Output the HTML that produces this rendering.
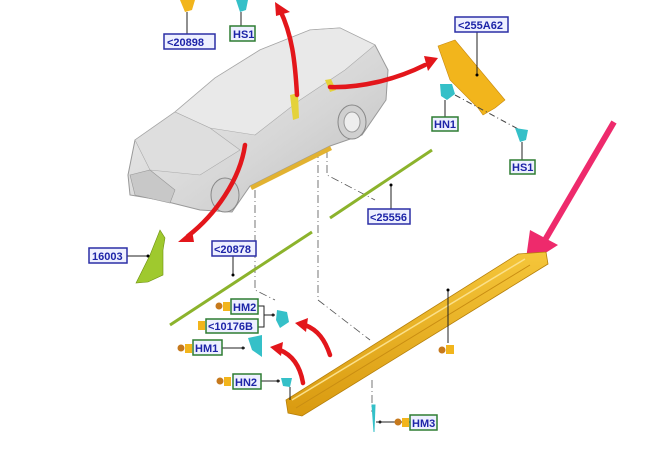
<!DOCTYPE html>
<html><head><meta charset="utf-8"><style>
html,body{margin:0;padding:0;background:#fff;}
svg{display:block;}
text{font-family:"Liberation Sans",sans-serif;font-weight:bold;font-size:11px;}
</style></head><body>
<svg width="662" height="452" viewBox="0 0 662 452" xmlns="http://www.w3.org/2000/svg">
<defs>
<linearGradient id="car" x1="0" y1="0" x2="1" y2="1">
<stop offset="0" stop-color="#f2f2f2"/><stop offset="0.6" stop-color="#d6d6d6"/><stop offset="1" stop-color="#bdbdbd"/>
</linearGradient>
<linearGradient id="sill" x1="0" y1="0" x2="0" y2="1">
<stop offset="0" stop-color="#f5c63a"/><stop offset="1" stop-color="#d99a10"/>
</linearGradient>
</defs>
<rect width="662" height="452" fill="#fff"/>

<g stroke="#555" stroke-width="0.8" fill="none" stroke-dasharray="8,3,1,3">
<path d="M255 190 V290 L275 300"/>
<path d="M318 150 V300 L370 340"/>
<path d="M327 150 V175 L375 200"/>
<path d="M372 380 V412"/>
</g>

<path d="M128 175 L135 140 L175 112 L215 78 L260 50 L310 30 L340 28 L375 45 L388 70 L386 100 L362 135 L330 146 L250 186 L232 212 L200 210 L160 200 L130 195 Z" fill="url(#car)" stroke="#999" stroke-width="1"/>
<path d="M175 112 L215 78 L260 50 L310 30 L340 28 L375 45 L345 70 L300 100 L255 135 L210 128 Z" fill="#e9e9e9" stroke="#aaa" stroke-width="0.6"/>
<path d="M135 140 L175 112 L210 128 L240 150 L200 175 L150 170 Z" fill="#dedede" stroke="#aaa" stroke-width="0.6"/>
<path d="M130 175 L150 170 L175 190 L170 203 L135 195 Z" fill="#c8c8c8" stroke="#999" stroke-width="0.6"/>
<ellipse cx="352" cy="122" rx="14" ry="17" fill="#d0d0d0" stroke="#888"/>
<ellipse cx="352" cy="122" rx="8" ry="10" fill="#eee" stroke="#999"/>
<ellipse cx="225" cy="195" rx="14" ry="17" fill="#d0d0d0" stroke="#888"/>
<path d="M250 186 L330 146 L332 150 L252 190 Z" fill="#e2b231"/>
<path d="M290 95 L298 93 L299 118 L293 120 Z" fill="#e4d23a"/>
<path d="M325 80 L331 79 L336 90 L330 92 Z" fill="#e4d23a"/>

<g fill="none" stroke="#e3161b" stroke-width="4.5" stroke-linecap="round">
<path d="M297 95 C295 60 292 35 280 10"/>
<path d="M330 87 C360 88 395 80 425 65"/>
<path d="M245 145 C240 180 215 215 188 236"/>
<path d="M330 355 C325 340 318 330 305 325"/>
<path d="M303 383 C300 365 292 355 280 350"/>
</g>
<g fill="#e3161b">
<polygon points="275,2 290,12 276,16"/>
<polygon points="438,58 424,56 428,71"/>
<polygon points="178,242 192,230 194,242"/>
<polygon points="295,323 308,318 306,332"/>
<polygon points="270,347 283,342 281,356"/>
</g>
<path d="M614 122 L545 240" stroke="#ee2a6c" stroke-width="6" fill="none"/>
<polygon points="525,266 530,230 558,245" fill="#ee2a6c"/>

<path d="M180 0 L195 0 L192 10 L185 12 Z" fill="#f2b51c"/>
<path d="M236 0 L248 0 L246 10 L240 12 Z" fill="#35c0c8"/>
<line x1="187" y1="12" x2="187" y2="34" stroke="#222"/>
<line x1="241" y1="12" x2="241" y2="26" stroke="#222"/>

<path d="M438 46 L455 40 L505 100 L495 108 L483 115 L478 108 L450 80 Z" fill="#f2b51c" stroke="#c88a10" stroke-width="0.6"/>
<line x1="477" y1="32" x2="477" y2="75" stroke="#222"/><circle cx="477" cy="75" r="1.5"/>
<path d="M440 84 L452 84 L455 94 L447 100 L441 96 Z" fill="#35c0c8"/>
<line x1="445" y1="100" x2="445" y2="117" stroke="#222"/>
<line x1="455" y1="95" x2="520" y2="130" stroke="#444" stroke-dasharray="6,3,1,3"/>
<path d="M515 128 L528 130 L526 140 L520 142 Z" fill="#35c0c8"/>
<line x1="522" y1="142" x2="522" y2="160" stroke="#222"/>

<path d="M330 218 L432 150" stroke="#8cb32c" stroke-width="3"/>
<path d="M170 325 L312 232" stroke="#8cb32c" stroke-width="3"/>
<line x1="391" y1="185" x2="391" y2="209" stroke="#222"/><circle cx="391" cy="185" r="1.5"/>
<line x1="233" y1="256" x2="233" y2="275" stroke="#222"/><circle cx="233" cy="275" r="1.5"/>
<path d="M160 230 L165 238 L163 250 L163 275 L148 282 L136 283 L150 255 Z" fill="#9fc92e" stroke="#6d9010" stroke-width="0.6"/>
<line x1="127" y1="256" x2="148" y2="256" stroke="#222"/><circle cx="148" cy="256" r="1.5"/>

<path d="M286 400 L518 254 L546 252 L548 264 L302 416 L288 413 Z" fill="url(#sill)" stroke="#b57f0a" stroke-width="0.8"/>
<path d="M292 400 L525 259" stroke="#fbe08a" stroke-width="1.5"/>
<path d="M296 408 L530 265" stroke="#c98d12" stroke-width="1"/>
<line x1="448" y1="290" x2="448" y2="343" stroke="#222"/><circle cx="448" cy="290" r="1.5"/>
<circle cx="442" cy="350" r="3.5" fill="#c6791c"/><rect x="446" y="345" width="8" height="9" fill="#f2b51c"/>

<path d="M277 310 L287 312 L289 322 L280 328 L276 320 Z" fill="#35c0c8"/>
<path d="M248 338 L262 335 L262 357 L252 350 Z" fill="#35c0c8"/>
<path d="M281 378 L292 378 L290 387 L283 386 Z" fill="#35c0c8"/>
<path d="M290 387 V400" stroke="#222"/>
<path d="M372 405 L375 405 L374 432 Z" fill="#35c0c8" stroke="#35c0c8"/>

<g stroke="#222" fill="none">
<path d="M258 306 H264 V327 H258"/><line x1="264" y1="315" x2="275" y2="315"/>
<line x1="222" y1="348" x2="245" y2="348"/>
<line x1="261" y1="381" x2="280" y2="381"/>
<line x1="376" y1="422" x2="410" y2="422"/>
</g>
<g fill="#222"><circle cx="273" cy="315" r="1.5"/><circle cx="243" cy="348" r="1.5"/><circle cx="278" cy="381" r="1.5"/><circle cx="380" cy="422" r="1.5"/></g>

<g>
<circle cx="219" cy="306" r="3.5" fill="#c6791c"/><rect x="223" y="302" width="7" height="9" fill="#f2b51c"/>
<rect x="198" y="321" width="7" height="9" fill="#f2b51c"/>
<circle cx="181" cy="348" r="3.5" fill="#c6791c"/><rect x="185" y="344" width="7" height="9" fill="#f2b51c"/>
<circle cx="220" cy="381" r="3.5" fill="#c6791c"/><rect x="224" y="377" width="7" height="9" fill="#f2b51c"/>
<circle cx="398" cy="422" r="3.5" fill="#c6791c"/><rect x="402" y="418" width="7" height="9" fill="#f2b51c"/>
</g>

<g stroke-width="1.5">
<rect x="164" y="34" width="51" height="15" fill="#eef0ff" stroke="#2b2fa6"/>
<rect x="230" y="26" width="25" height="15" fill="#eef0ff" stroke="#2e7d32"/>
<rect x="455" y="17" width="53" height="15" fill="#eef0ff" stroke="#2b2fa6"/>
<rect x="432" y="117" width="26" height="14" fill="#eef0ff" stroke="#2e7d32"/>
<rect x="510" y="160" width="25" height="14" fill="#eef0ff" stroke="#2e7d32"/>
<rect x="368" y="209" width="42" height="15" fill="#eef0ff" stroke="#2b2fa6"/>
<rect x="89" y="248" width="38" height="15" fill="#eef0ff" stroke="#2b2fa6"/>
<rect x="212" y="241" width="44" height="15" fill="#eef0ff" stroke="#2b2fa6"/>
<rect x="231" y="299" width="27" height="15" fill="#eef0ff" stroke="#2e7d32"/>
<rect x="206" y="319" width="52" height="14" fill="#eef0ff" stroke="#2e7d32"/>
<rect x="193" y="340" width="29" height="15" fill="#eef0ff" stroke="#2e7d32"/>
<rect x="233" y="374" width="28" height="15" fill="#eef0ff" stroke="#2e7d32"/>
<rect x="410" y="415" width="27" height="15" fill="#eef0ff" stroke="#2e7d32"/>
</g>
<g fill="#1d24a8">
<text x="167" y="46">&lt;20898</text>
<text x="233" y="38">HS1</text>
<text x="458" y="29">&lt;255A62</text>
<text x="434" y="128">HN1</text>
<text x="512" y="171">HS1</text>
<text x="370" y="221">&lt;25556</text>
<text x="92" y="260">16003</text>
<text x="214" y="253">&lt;20878</text>
<text x="233" y="311">HM2</text>
<text x="208" y="330">&lt;10176B</text>
<text x="195" y="352">HM1</text>
<text x="235" y="386">HN2</text>
<text x="412" y="427">HM3</text>
</g>
</svg>
</body></html>
